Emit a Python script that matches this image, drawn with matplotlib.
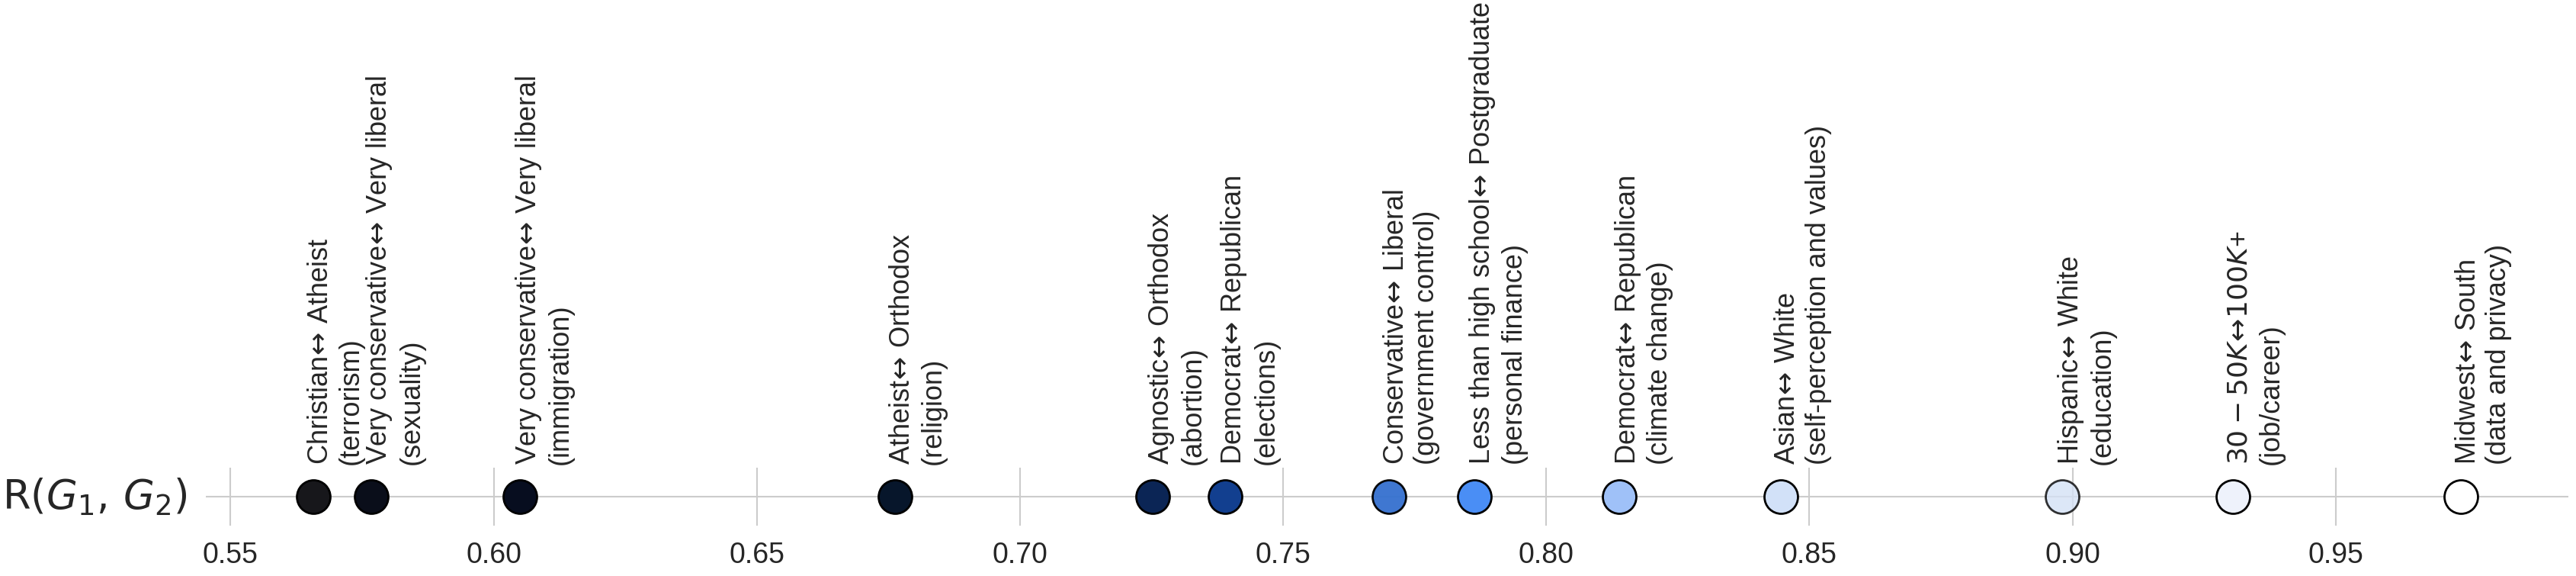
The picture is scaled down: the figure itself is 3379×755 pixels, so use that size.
import matplotlib
matplotlib.use("Agg")
import matplotlib.pyplot as plt

# ---- data ----
ARW = r"$\!\leftrightarrow\!$"
values = [0.5657, 0.5767, 0.6050, 0.6763, 0.7252, 0.7390, 0.7701,
          0.7863, 0.8139, 0.8445, 0.8980, 0.9305, 0.9738]
labels = [
    "Christian" + ARW + " Atheist\n(terrorism)",
    "Very conservative" + ARW + " Very liberal\n(sexuality)",
    "Very conservative" + ARW + " Very liberal\n(immigration)",
    "Atheist" + ARW + " Orthodox\n(religion)",
    "Agnostic" + ARW + " Orthodox\n(abortion)",
    "Democrat" + ARW + " Republican\n(elections)",
    "Conservative" + ARW + " Liberal\n(government control)",
    "Less than high school" + ARW + " Postgraduate\n(personal finance)",
    "Democrat" + ARW + " Republican\n(climate change)",
    "Asian" + ARW + " White\n(self-perception and values)",
    "Hispanic" + ARW + " White\n(education)",
    r"$30-50K\!\leftrightarrow\!100K$+" + "\n(job/career)",
    "Midwest" + ARW + " South\n(data and privacy)",
]
xticks = [0.55, 0.60, 0.65, 0.70, 0.75, 0.80, 0.85, 0.90, 0.95]
ylabel = r"$\mathrm{R}(G_1,\, G_2)$"

# ---- styles ----
face_colors = ["#17171b", "#0a0e1a", "#070d1f", "#07162b", "#0b2555",
               "#123f8f", "#3470cf", "#4a8ef5", "#9fc1f8", "#d2e1f8",
               "#d4e1f5", "#eef2fb", "#ffffff"]
alphas = [1, 1, 1, 1, 1, 1, 0.95, 1, 1, 1, 0.8, 1, 1]

plt.rcParams['font.family'] = ['Liberation Sans', 'DejaVu Sans']
text_color = "#262626"

fig = plt.figure(figsize=(33.79, 7.55), dpi=100)
ax = fig.add_axes([0.0799, 0.0874, 0.99704 - 0.0799, 0.1881 - 0.0874])

for x, fc, a in zip(values, face_colors, alphas):
    ax.scatter([x], [0], s=1000, c=[fc], edgecolors="black",
               linewidths=2.0, alpha=a, zorder=3)

for x, lab in zip(values, labels):
    ax.annotate(lab, xy=(x, 1), xycoords=("data", "axes fraction"),
                xytext=(-6, 3), textcoords="offset points",
                rotation=90, ha="left", va="bottom", fontsize=26,
                color=text_color, annotation_clip=False)

ax.margins(x=0.05)
ax.set_ylim(-1, 1)
ax.set_xticks(xticks)
ax.set_xticklabels([f"{t:.2f}" for t in xticks])
ax.set_yticks([0])
ax.set_yticklabels([])
ax.tick_params(axis="both", length=0, labelsize=27, labelcolor=text_color)
ax.tick_params(axis="x", pad=15)
ax.grid(True, color="#cccccc", linewidth=1.5, zorder=0)
ax.set_axisbelow(True)
for sp in ax.spines.values():
    sp.set_visible(False)

ax.set_ylabel(ylabel, rotation=0, ha="right", va="center", fontsize=38,
              color=text_color, labelpad=14)

fig.savefig("out.png", dpi=100, facecolor="white")
